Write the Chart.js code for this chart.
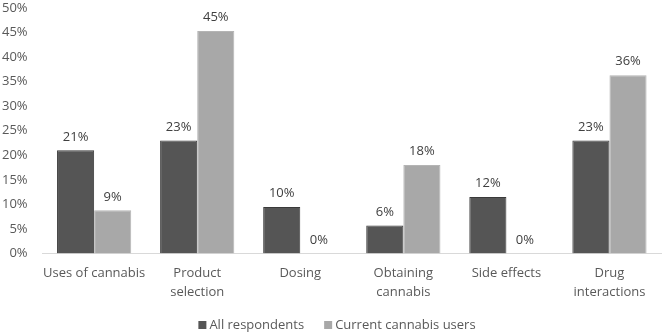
<!DOCTYPE html>
<html>
<head>
<meta charset="utf-8">
<script src="https://cdn.jsdelivr.net/npm/chart.js@4"></script>
<style>
  html, body { margin: 0; padding: 0; background: #fff; }
  #wrap { width: 666px; height: 335px; position: relative; }
</style>
</head>
<body>
<div id="wrap"><canvas id="topics"></canvas></div>
<script>
  const categories = ['Uses of cannabis', ['Product', 'selection'], 'Dosing', ['Obtaining', 'cannabis'], 'Side effects', ['Drug', 'interactions']];
  const allRespondents = [21, 23, 9.5, 5.7, 11.5, 23];
  const currentUsers = [8.8, 45.3, 0, 18, 0, 36.3];
  const seriesNames = ['All respondents', 'Current cannabis users'];

  const FONT = "'Open Sans', sans-serif";
  const TEXT = '#595959';

  // percentage above every bar
  const valueLabels = {
    id: 'valueLabels',
    afterDatasetsDraw(chart) {
      const ctx = chart.ctx;
      ctx.save();
      ctx.font = '13px ' + FONT;
      ctx.fillStyle = '#404040';
      ctx.textAlign = 'center';
      ctx.textBaseline = 'bottom';
      chart.data.datasets.forEach((ds, i) => {
        chart.getDatasetMeta(i).data.forEach((bar, j) => {
          ctx.fillText(Math.round(ds.data[j]) + '%', bar.x, bar.y - 7);
        });
      });
      ctx.restore();
    }
  };

  // legend row along the bottom edge, wider item gap than the built-in one
  const bottomLegend = {
    id: 'bottomLegend',
    afterDraw(chart) {
      const ctx = chart.ctx;
      const y = 325, box = 8, gap = 20;
      ctx.save();
      ctx.font = '13px ' + FONT;
      ctx.textBaseline = 'middle';
      const items = chart.data.datasets.map(ds => ({ ds, w: box + 3 + ctx.measureText(ds.label).width }));
      const total = items.reduce((s, it) => s + it.w, 0) + gap * (items.length - 1);
      let x = 337 - total / 2;
      items.forEach(it => {
        ctx.fillStyle = it.ds.backgroundColor;
        ctx.fillRect(x, y - box / 2, box, box);
        ctx.fillStyle = TEXT;
        ctx.fillText(it.ds.label, x + box + 3, y);
        x += it.w + gap;
      });
      ctx.restore();
    }
  };

  new Chart(document.getElementById('topics'), {
    type: 'bar',
    data: {
      labels: categories,
      datasets: [
        { label: seriesNames[0], data: allRespondents, backgroundColor: '#555555', borderColor: '#3a3a3a', borderWidth: 1 },
        { label: seriesNames[1], data: currentUsers, backgroundColor: '#a8a8a8', borderColor: '#b4b4b4', borderWidth: 1 }
      ]
    },
    options: {
      responsive: true,
      maintainAspectRatio: false,
      animation: false,
      layout: { padding: { top: 1, right: 5, left: 2, bottom: 23 } },
      datasets: { bar: { barPercentage: 1, categoryPercentage: 0.72 } },
      scales: {
        x: {
          grid: { display: false, drawTicks: false },
          border: { color: '#d9d9d9', width: 1 },
          ticks: { color: TEXT, font: { family: FONT, size: 13, lineHeight: 1.4 }, padding: 11, maxRotation: 0, autoSkip: false }
        },
        y: {
          min: 0, max: 50,
          // tickLength gives the label gap without the vertical padding ticks.padding adds
          grid: { display: false, drawTicks: true, tickLength: 15 },
          border: { display: false },
          ticks: { stepSize: 5, color: TEXT, font: { family: FONT, size: 13 }, padding: 0, callback: v => v + '%' }
        }
      },
      plugins: {
        legend: { display: false },
        tooltip: { enabled: false }
      }
    },
    plugins: [valueLabels, bottomLegend]
  });
</script>
</body>
</html>
